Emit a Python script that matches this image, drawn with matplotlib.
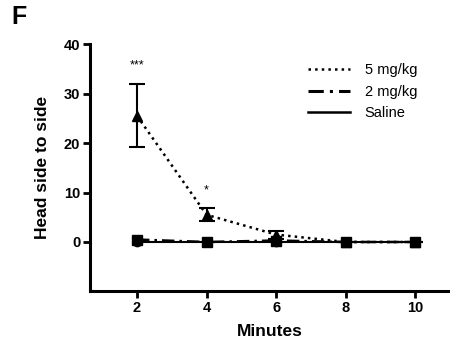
import matplotlib
matplotlib.use("Agg")
import matplotlib.pyplot as plt
from matplotlib.lines import Line2D

minutes = [2, 4, 6, 8, 10]
mg5 = [25.5, 5.5, 1.5, 0.0, 0.0]
mg5_err = [6.4, 1.3, 0.8, 0.0, 0.0]
mg2 = [0.5, 0.0, 0.3, 0.0, 0.0]
saline = [0.0, 0.0, 0.0, 0.0, 0.0]
stars = {2: "***", 4: "*"}

plt.rcParams['font.family'] = ['Arial', 'Liberation Sans', 'DejaVu Sans']

fig = plt.figure(figsize=(4.5, 3.47), dpi=100)
ax = fig.add_axes([0.2, 0.16, 0.8, 0.713])

dashdot = (0, (5, 2, 1, 2))
ax.plot(minutes, saline, color='black', lw=1.5, marker='o', ms=6, zorder=3)
ax.plot(minutes, mg2, color='black', lw=1.8, ls=dashdot, marker='s', ms=7, zorder=4)
ax.errorbar(minutes, mg5, yerr=mg5_err, color='black', lw=1.8, ls=':', marker='^',
            ms=7, capsize=6, elinewidth=1.5, capthick=1.5, zorder=5)

for x, s in stars.items():
    i = minutes.index(x)
    ax.text(x, mg5[i] + mg5_err[i] + 2.5, s, ha='center', va='bottom', fontsize=9)

ax.set_xlim(0.65, 11)
ax.set_ylim(-10, 40)
ax.set_xticks(minutes)
ax.set_yticks([0, 10, 20, 30, 40])
for s in ['top', 'right']:
    ax.spines[s].set_visible(False)
for s in ['left', 'bottom']:
    ax.spines[s].set_linewidth(2.2)
ax.tick_params(width=2, length=5, labelsize=10.5, pad=2)
for lbl in ax.get_xticklabels() + ax.get_yticklabels():
    lbl.set_fontweight('bold')

ax.set_xlabel('Minutes', fontsize=12.5, fontweight='bold', labelpad=6)
ax.set_ylabel('Head side to side', fontsize=12.5, fontweight='bold', labelpad=10)

handles = [Line2D([], [], color='black', lw=1.8, ls=':'),
           Line2D([], [], color='black', lw=2.2, ls=dashdot),
           Line2D([], [], color='black', lw=1.8)]
labels = ['5 mg/kg', '2 mg/kg', 'Saline']
ax.legend(handles, labels, loc='upper right', bbox_to_anchor=(0.945, 0.975), frameon=False,
          fontsize=10.5, handlelength=2.9, labelspacing=0.5, handletextpad=1.0)

fig.text(0.025, 0.985, 'F', fontsize=18, fontweight='bold', va='top')

fig.savefig('out.png', dpi=100)
